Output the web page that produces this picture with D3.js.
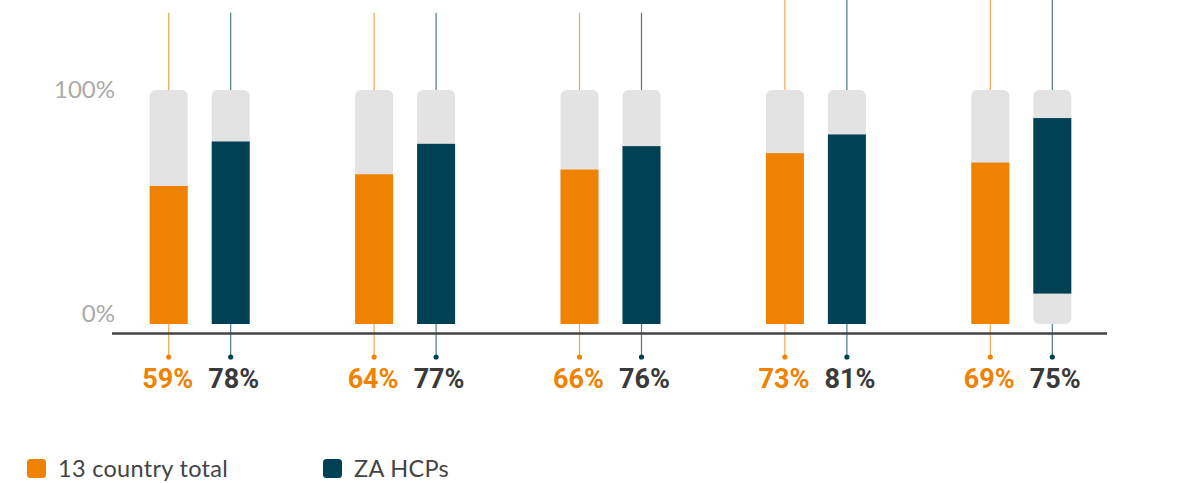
<!DOCTYPE html>
<html>
<head>
<meta charset="utf-8">
<script src="https://cdn.jsdelivr.net/npm/d3@7"></script>
<style>
  body { margin: 0; background: #fff; }
  svg { display: block; }
</style>
</head>
<body>
<svg id="chart" width="1179" height="483"></svg>
<script>
// data
let groups = [1, 2, 3, 4, 5];
let countryTotal = [59, 64, 66, 73, 69];
let zaHcps = [78, 77, 76, 81, 75];
let zaBase = [0, 0, 0, 0, 13];        // last ZA bar is drawn floating
let stemTop = [133, 133, 133, 140, 140]; // top of the guide lines, in %
let yTicks = [0, 100];
let seriesKeys = ["country", "za"];
let seriesNames = ["13 country total", "ZA HCPs"];

let colors = { "country": "#ef8200", "za": "#004154" };
let labelColors = { "country": "#ef8200", "za": "#3a3a3a" };

let svg = d3.select("#chart");

let x0 = d3.scaleBand()
  .domain(groups)
  .range([97, 1124]);

let bw = x0.bandwidth();
let x1 = d3.scaleBand()
  .domain(seriesKeys)
  .range([bw/2 - 50, bw/2 + 50])
  .paddingInner(0.387);

let y = d3.scaleLinear()
  .domain([0, 100])
  .range([324, 90]);

let rows = groups.map(function(g, i) {
  return [
    { key: "country", group: g, base: 0, value: countryTotal[i], stem: stemTop[i] },
    { key: "za", group: g, base: zaBase[i], value: zaHcps[i], stem: stemTop[i] }
  ];
});
let flat = rows.flat();

// y tick labels
svg.selectAll(".ytick")
  .data(yTicks)
  .enter().append("text")
  .attr("class", "ytick")
  .attr("x", 115)
  .attr("y", d => y(d) + (d === 0 ? -8 : 2))
  .attr("dominant-baseline", "middle")
  .style("text-anchor", "end")
  .style("font-family", "Lato, 'Open Sans', sans-serif")
  .style("font-size", "24px")
  .style("fill", "#aaaaaa")
  .text(d => d + "%");

let bars = svg.selectAll(".bar")
  .data(flat)
  .enter().append("g")
  .attr("class", "bar")
  .attr("transform", d => "translate(" + (x0(d.group) + x1(d.key)) + ",0)");

let bwi = x1.bandwidth();

// top guide lines
bars.append("line")
  .attr("x1", bwi/2).attr("x2", bwi/2)
  .attr("y1", d => y(d.stem))
  .attr("y2", y(100))
  .style("stroke", d => colors[d.key])
  .style("stroke-opacity", 0.7)
  .style("stroke-width", 1.2);

// grey background
bars.append("rect")
  .attr("x", 0)
  .attr("y", y(100))
  .attr("width", bwi)
  .attr("height", y(0) - y(100))
  .attr("rx", 6)
  .style("fill", "#e3e3e3");

// value bars
bars.append("rect")
  .attr("x", 0)
  .attr("y", d => y(d.base + d.value))
  .attr("width", bwi)
  .attr("height", d => y(d.base) - y(d.base + d.value))
  .style("fill", d => colors[d.key]);

// bottom guide lines with dots
bars.append("line")
  .attr("x1", bwi/2).attr("x2", bwi/2)
  .attr("y1", y(0))
  .attr("y2", 357)
  .style("stroke", d => colors[d.key])
  .style("stroke-opacity", 0.7)
  .style("stroke-width", 1.2);

bars.append("circle")
  .attr("cx", bwi/2)
  .attr("cy", 357)
  .attr("r", 2.6)
  .style("fill", d => colors[d.key]);

// value labels
bars.append("text")
  .attr("x", d => bwi/2 + (d.key === "za" ? 3 : -1))
  .attr("y", 388)
  .style("text-anchor", "middle")
  .style("font-family", "Roboto, sans-serif")
  .style("font-weight", "bold")
  .style("font-size", "27px")
  .style("fill", d => labelColors[d.key])
  .text(d => d.value + "%");

// axis line
svg.append("line")
  .attr("x1", 112).attr("x2", 1107)
  .attr("y1", 333.5).attr("y2", 333.5)
  .style("stroke", "#444")
  .style("stroke-width", 2.5);

// legend
let legendX = [27, 323];
seriesKeys.forEach(function(k, i) {
  svg.append("rect")
    .attr("x", legendX[i])
    .attr("y", 459)
    .attr("width", 19)
    .attr("height", 19)
    .attr("rx", 3.5)
    .style("fill", colors[k]);
  svg.append("text")
    .attr("x", legendX[i] + 31)
    .attr("y", 477)
    .style("font-family", "Lato, sans-serif")
    .style("font-size", "23.5px")
    .style("letter-spacing", "0.3px")
    .style("fill", "#444")
    .text(seriesNames[i]);
});
</script>
</body>
</html>
